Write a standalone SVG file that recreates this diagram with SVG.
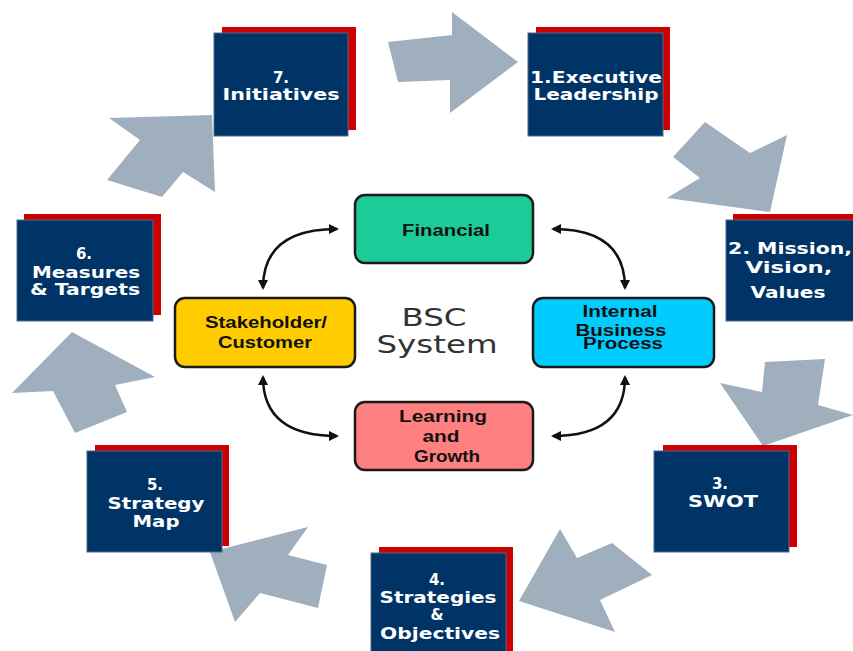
<svg xmlns="http://www.w3.org/2000/svg" width="853" height="651" viewBox="0 0 853 651">
<style>
.bg{fill:#ffffff}
.red{fill:#CC0000}
.navy{fill:#003366;stroke:#4a6a90;stroke-width:1}
.bt{font-family:"DejaVu Sans",Verdana,sans-serif;font-weight:bold;font-size:15px;fill:#ffffff;text-anchor:middle}
.ga{fill:#A0AFBE}
.node{stroke:#1a1a1a;stroke-width:2.5}
.nt{font-family:"Liberation Sans",Arial,sans-serif;font-weight:bold;font-size:16px;fill:#111111;text-anchor:middle}
.conn{fill:none;stroke:#111111;stroke-width:2.5}
.big{font-family:"DejaVu Sans",Verdana,sans-serif;font-size:25px;fill:#333333;text-anchor:middle}
</style>
<defs>
<marker id="ah" viewBox="0 0 10 10" refX="8" refY="5" markerWidth="4" markerHeight="4" orient="auto-start-reverse">
<path d="M0,0 L10,5 L0,10 z" fill="#111111"/>
</marker>
</defs>
<rect class="bg" x="0" y="0" width="853" height="651"/>

<g id="cycle-arrows">
<polygon class="ga" points="388,42 452,35 452,12 518,62 450,113 450,80 398,82"/>
<polygon class="ga" points="705,122 750,153 787,135 770,212 667,198 700,178 673,157"/>
<polygon class="ga" points="765,362 825,359 818,405 853,415 763,446 720,383 762,392"/>
<polygon class="ga" points="612,543 652,575 600,600 615,632 519,601 560,529 577,558"/>
<polygon class="ga" points="327,565 318,608 260,593 235,622 210,552 308,527 288,555"/>
<polygon class="ga" points="127,412 75,433 53,391 12,393 72,332 155,377 115,385"/>
<polygon class="ga" points="107,180 140,140 109,118 212,115 215,192 183,172 162,197"/>
</g>

<g id="step7">
<rect class="red" x="222" y="27" width="134" height="103"/>
<rect class="navy" x="214" y="33" width="134" height="103"/>
<text class="bt" x="281" y="83">7.</text>
<text class="bt" x="281" y="100" textLength="117" lengthAdjust="spacingAndGlyphs">Initiatives</text>
</g>
<g id="step1">
<rect class="red" x="536" y="27" width="134" height="103"/>
<rect class="navy" x="528" y="33" width="135" height="103"/>
<text class="bt" x="596" y="83" textLength="132" lengthAdjust="spacingAndGlyphs">1.Executive</text>
<text class="bt" x="596" y="100" textLength="125" lengthAdjust="spacingAndGlyphs">Leadership</text>
</g>
<g id="step2">
<rect class="red" x="733" y="214" width="130" height="101"/>
<rect class="navy" x="726" y="220" width="134" height="101"/>
<text class="bt" x="790" y="254" textLength="124" lengthAdjust="spacingAndGlyphs">2. Mission,</text>
<text class="bt" x="789" y="273" textLength="87" lengthAdjust="spacingAndGlyphs">Vision,</text>
<text class="bt" x="788" y="298" textLength="75" lengthAdjust="spacingAndGlyphs">Values</text>
</g>
<g id="step3">
<rect class="red" x="663" y="445" width="134" height="102"/>
<rect class="navy" x="654" y="451" width="135" height="101"/>
<text class="bt" x="720" y="489">3.</text>
<text class="bt" x="723" y="507" textLength="70" lengthAdjust="spacingAndGlyphs">SWOT</text>
</g>
<g id="step4">
<rect class="red" x="379" y="547" width="134" height="110"/>
<rect class="navy" x="371" y="553" width="135" height="104"/>
<text class="bt" x="437" y="585">4.</text>
<text class="bt" x="438" y="603" textLength="117" lengthAdjust="spacingAndGlyphs">Strategies</text>
<text class="bt" x="437" y="620">&amp;</text>
<text class="bt" x="440" y="639" textLength="120" lengthAdjust="spacingAndGlyphs">Objectives</text>
</g>
<g id="step5">
<rect class="red" x="95" y="445" width="134" height="101"/>
<rect class="navy" x="87" y="451" width="135" height="101"/>
<text class="bt" x="155" y="490">5.</text>
<text class="bt" x="156" y="509" textLength="97" lengthAdjust="spacingAndGlyphs">Strategy</text>
<text class="bt" x="156" y="527" textLength="47" lengthAdjust="spacingAndGlyphs">Map</text>
</g>
<g id="step6">
<rect class="red" x="24" y="214" width="137" height="101"/>
<rect class="navy" x="17" y="220" width="136" height="101"/>
<text class="bt" x="84" y="259">6.</text>
<text class="bt" x="86" y="278" textLength="108" lengthAdjust="spacingAndGlyphs">Measures</text>
<text class="bt" x="85" y="295" textLength="110" lengthAdjust="spacingAndGlyphs">&amp; Targets</text>
</g>

<g id="connectors">
<path class="conn" d="M337,229 Q263,229 263,288" marker-start="url(#ah)" marker-end="url(#ah)"/>
<path class="conn" d="M553,229 Q625,229 625,288" marker-start="url(#ah)" marker-end="url(#ah)"/>
<path class="conn" d="M263,377 Q263,436 337,436" marker-start="url(#ah)" marker-end="url(#ah)"/>
<path class="conn" d="M625,377 Q625,436 553,436" marker-start="url(#ah)" marker-end="url(#ah)"/>
</g>

<g id="financial">
<rect class="node" x="355" y="195" width="178" height="68" rx="10" fill="#1CCB97"/>
<text class="nt" x="446" y="236" textLength="88" lengthAdjust="spacingAndGlyphs">Financial</text>
</g>
<g id="stakeholder">
<rect class="node" x="175" y="298" width="180" height="69" rx="10" fill="#FFCC00"/>
<text class="nt" x="266" y="328" textLength="122" lengthAdjust="spacingAndGlyphs">Stakeholder/</text>
<text class="nt" x="265" y="348" textLength="94" lengthAdjust="spacingAndGlyphs">Customer</text>
</g>
<g id="internal">
<rect class="node" x="533" y="298" width="181" height="69" rx="10" fill="#00CCFF"/>
<text class="nt" x="620" y="317" textLength="75" lengthAdjust="spacingAndGlyphs">Internal</text>
<text class="nt" x="621" y="336" textLength="91" lengthAdjust="spacingAndGlyphs">Business</text>
<text class="nt" x="623" y="349" textLength="80" lengthAdjust="spacingAndGlyphs">Process</text>
</g>
<g id="learning">
<rect class="node" x="355" y="402" width="178" height="68" rx="10" fill="#FF8080"/>
<text class="nt" x="443" y="422" textLength="88" lengthAdjust="spacingAndGlyphs">Learning</text>
<text class="nt" x="441" y="442" textLength="37" lengthAdjust="spacingAndGlyphs">and</text>
<text class="nt" x="447" y="462" textLength="66" lengthAdjust="spacingAndGlyphs">Growth</text>
</g>
<g id="bsc-system">
<text class="big" x="434" y="326" textLength="65" lengthAdjust="spacingAndGlyphs">BSC</text>
<text class="big" x="437" y="353" textLength="121" lengthAdjust="spacingAndGlyphs">System</text>
</g>
</svg>
